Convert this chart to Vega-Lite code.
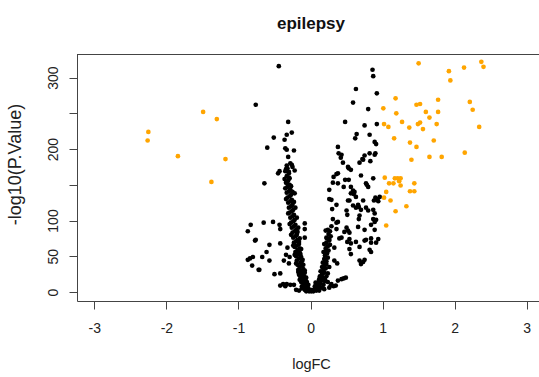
{
  "$schema": "https://vega.github.io/schema/vega-lite/v6.json",
  "width": 462,
  "height": 247,
  "autosize": {"type": "none"},
  "padding": {"left": 77, "top": 54, "right": 0, "bottom": 76},
  "title": {"text": "epilepsy", "font": "Liberation Sans", "fontSize": 17, "fontWeight": "bold", "color": "#111", "frame": "group", "anchor": "middle", "baseline": "alphabetic", "offset": 8, "dx": 3},
  "config": {"view": {"stroke": null}, "font": "Liberation Sans"},
  "data": {"values": [
    {"fc":-0.02,"p":1,"s":"n"},{"fc":0.01,"p":1,"s":"n"},{"fc":-0.05,"p":2,"s":"n"},{"fc":0.03,"p":2,"s":"n"},{"fc":-0.08,"p":3,"s":"n"},{"fc":0.05,"p":3,"s":"n"},{"fc":0.08,"p":2,"s":"n"},{"fc":-0.06,"p":5,"s":"n"},{"fc":-0.1,"p":6,"s":"n"},{"fc":-0.03,"p":4,"s":"n"},{"fc":0.1,"p":5,"s":"n"},{"fc":-0.12,"p":8,"s":"n"},{"fc":-0.08,"p":9,"s":"n"},{"fc":-0.04,"p":7,"s":"n"},{"fc":0.0,"p":3,"s":"n"},{"fc":-0.1,"p":12,"s":"n"},{"fc":-0.06,"p":11,"s":"n"},{"fc":-0.13,"p":14,"s":"n"},{"fc":-0.09,"p":16,"s":"n"},{"fc":-0.11,"p":19,"s":"n"},{"fc":-0.07,"p":17,"s":"n"},{"fc":-0.14,"p":21,"s":"n"},{"fc":-0.1,"p":23,"s":"n"},{"fc":-0.12,"p":26,"s":"n"},{"fc":-0.16,"p":24,"s":"n"},{"fc":-0.08,"p":27,"s":"n"},{"fc":-0.13,"p":30,"s":"n"},{"fc":-0.17,"p":31,"s":"n"},{"fc":-0.1,"p":32,"s":"n"},{"fc":-0.15,"p":35,"s":"n"},{"fc":-0.12,"p":37,"s":"n"},{"fc":-0.18,"p":38,"s":"n"},{"fc":-0.14,"p":41,"s":"n"},{"fc":-0.12,"p":43,"s":"n"},{"fc":-0.19,"p":44,"s":"n"},{"fc":-0.16,"p":47,"s":"n"},{"fc":-0.13,"p":49,"s":"n"},{"fc":-0.2,"p":50,"s":"n"},{"fc":-0.17,"p":53,"s":"n"},{"fc":-0.15,"p":55,"s":"n"},{"fc":-0.21,"p":56,"s":"n"},{"fc":-0.18,"p":59,"s":"n"},{"fc":-0.15,"p":61,"s":"n"},{"fc":-0.22,"p":63,"s":"n"},{"fc":-0.19,"p":65,"s":"n"},{"fc":-0.16,"p":67,"s":"n"},{"fc":-0.23,"p":69,"s":"n"},{"fc":-0.2,"p":71,"s":"n"},{"fc":-0.18,"p":73,"s":"n"},{"fc":-0.24,"p":76,"s":"n"},{"fc":-0.21,"p":78,"s":"n"},{"fc":-0.19,"p":80,"s":"n"},{"fc":-0.25,"p":83,"s":"n"},{"fc":-0.22,"p":85,"s":"n"},{"fc":-0.2,"p":87,"s":"n"},{"fc":-0.26,"p":90,"s":"n"},{"fc":-0.23,"p":92,"s":"n"},{"fc":-0.21,"p":94,"s":"n"},{"fc":-0.27,"p":97,"s":"n"},{"fc":-0.24,"p":99,"s":"n"},{"fc":-0.22,"p":101,"s":"n"},{"fc":-0.28,"p":104,"s":"n"},{"fc":-0.25,"p":106,"s":"n"},{"fc":-0.23,"p":108,"s":"n"},{"fc":-0.29,"p":111,"s":"n"},{"fc":-0.26,"p":113,"s":"n"},{"fc":-0.24,"p":115,"s":"n"},{"fc":-0.3,"p":118,"s":"n"},{"fc":-0.27,"p":120,"s":"n"},{"fc":-0.25,"p":122,"s":"n"},{"fc":-0.31,"p":125,"s":"n"},{"fc":-0.28,"p":127,"s":"n"},{"fc":-0.26,"p":129,"s":"n"},{"fc":-0.32,"p":132,"s":"n"},{"fc":-0.29,"p":134,"s":"n"},{"fc":-0.27,"p":136,"s":"n"},{"fc":-0.33,"p":139,"s":"n"},{"fc":-0.3,"p":141,"s":"n"},{"fc":-0.28,"p":143,"s":"n"},{"fc":-0.32,"p":147,"s":"n"},{"fc":-0.29,"p":150,"s":"n"},{"fc":-0.34,"p":153,"s":"n"},{"fc":-0.31,"p":156,"s":"n"},{"fc":-0.29,"p":159,"s":"n"},{"fc":-0.33,"p":162,"s":"n"},{"fc":-0.3,"p":166,"s":"n"},{"fc":-0.35,"p":169,"s":"n"},{"fc":-0.32,"p":173,"s":"n"},{"fc":-0.33,"p":177,"s":"n"},{"fc":-0.36,"p":158,"s":"n"},{"fc":-0.35,"p":145,"s":"n"},{"fc":-0.34,"p":130,"s":"n"},{"fc":-0.31,"p":110,"s":"n"},{"fc":-0.29,"p":95,"s":"n"},{"fc":-0.27,"p":80,"s":"n"},{"fc":-0.24,"p":65,"s":"n"},{"fc":-0.22,"p":52,"s":"n"},{"fc":-0.2,"p":40,"s":"n"},{"fc":-0.17,"p":28,"s":"n"},{"fc":-0.15,"p":17,"s":"n"},{"fc":-0.12,"p":5,"s":"n"},{"fc":-0.06,"p":1,"s":"n"},{"fc":0.04,"p":1,"s":"n"},
    {"fc":-0.19,"p":104,"s":"n"},{"fc":-0.17,"p":90,"s":"n"},{"fc":-0.15,"p":75,"s":"n"},{"fc":-0.13,"p":60,"s":"n"},{"fc":-0.11,"p":45,"s":"n"},{"fc":-0.08,"p":30,"s":"n"},{"fc":-0.06,"p":20,"s":"n"},{"fc":-0.03,"p":10,"s":"n"},
    {"fc":-0.21,"p":118,"s":"n"},{"fc":-0.23,"p":126,"s":"n"},{"fc":-0.25,"p":140,"s":"n"},{"fc":-0.18,"p":84,"s":"n"},{"fc":-0.16,"p":70,"s":"n"},{"fc":-0.14,"p":53,"s":"n"},{"fc":-0.1,"p":38,"s":"n"},{"fc":-0.09,"p":22,"s":"n"},{"fc":-0.05,"p":14,"s":"n"},{"fc":-0.27,"p":148,"s":"n"},{"fc":-0.3,"p":160,"s":"n"},
    {"fc":0.04,"p":3,"s":"n"},{"fc":0.07,"p":4,"s":"n"},{"fc":0.1,"p":6,"s":"n"},{"fc":0.06,"p":8,"s":"n"},{"fc":0.12,"p":9,"s":"n"},{"fc":0.09,"p":11,"s":"n"},{"fc":0.14,"p":12,"s":"n"},{"fc":0.11,"p":14,"s":"n"},{"fc":0.07,"p":13,"s":"n"},{"fc":0.15,"p":16,"s":"n"},{"fc":0.12,"p":18,"s":"n"},{"fc":0.17,"p":20,"s":"n"},{"fc":0.13,"p":22,"s":"n"},{"fc":0.16,"p":25,"s":"n"},{"fc":0.19,"p":27,"s":"n"},{"fc":0.14,"p":29,"s":"n"},{"fc":0.18,"p":31,"s":"n"},{"fc":0.21,"p":33,"s":"n"},{"fc":0.16,"p":35,"s":"n"},{"fc":0.2,"p":38,"s":"n"},{"fc":0.17,"p":41,"s":"n"},{"fc":0.22,"p":43,"s":"n"},{"fc":0.19,"p":46,"s":"n"},{"fc":0.24,"p":48,"s":"n"},{"fc":0.2,"p":51,"s":"n"},{"fc":0.23,"p":54,"s":"n"},{"fc":0.18,"p":56,"s":"n"},{"fc":0.25,"p":58,"s":"n"},{"fc":0.21,"p":61,"s":"n"},{"fc":0.24,"p":64,"s":"n"},{"fc":0.27,"p":66,"s":"n"},{"fc":0.22,"p":69,"s":"n"},{"fc":0.26,"p":72,"s":"n"},{"fc":0.23,"p":75,"s":"n"},{"fc":0.28,"p":78,"s":"n"},{"fc":0.25,"p":81,"s":"n"},{"fc":0.27,"p":85,"s":"n"},{"fc":0.29,"p":92,"s":"n"},{"fc":0.15,"p":6,"s":"n"},{"fc":0.18,"p":10,"s":"n"},{"fc":0.2,"p":15,"s":"n"},{"fc":0.22,"p":22,"s":"n"},
    {"fc":-0.42,"p":9,"s":"n"},{"fc":-0.35,"p":8,"s":"n"},{"fc":-0.28,"p":10,"s":"n"},{"fc":0.32,"p":8,"s":"n"},{"fc":0.35,"p":9,"s":"n"},{"fc":0.26,"p":6,"s":"n"},{"fc":-0.2,"p":3,"s":"n"},{"fc":-0.16,"p":2,"s":"n"},{"fc":0.12,"p":2,"s":"n"},{"fc":0.19,"p":4,"s":"n"},
    {"fc":-0.76,"p":262,"s":"n"},{"fc":-0.83,"p":94,"s":"n"},{"fc":-0.87,"p":85,"s":"n"},{"fc":-0.77,"p":72,"s":"n"},{"fc":-0.87,"p":45,"s":"n"},{"fc":-0.84,"p":47,"s":"n"},{"fc":-0.8,"p":49,"s":"n"},{"fc":-0.81,"p":37,"s":"n"},{"fc":-0.72,"p":31,"s":"n"},
    {"fc":-0.44,"p":316,"s":"n"},{"fc":-0.31,"p":238,"s":"n"},{"fc":-0.26,"p":223,"s":"n"},{"fc":-0.33,"p":220,"s":"n"},{"fc":-0.51,"p":216,"s":"n"},{"fc":-0.36,"p":213,"s":"n"},{"fc":-0.6,"p":202,"s":"n"},{"fc":-0.35,"p":201,"s":"n"},{"fc":-0.33,"p":199,"s":"n"},{"fc":-0.23,"p":198,"s":"n"},{"fc":-0.31,"p":189,"s":"n"},{"fc":-0.28,"p":180,"s":"n"},{"fc":-0.26,"p":178,"s":"n"},{"fc":-0.25,"p":175,"s":"n"},{"fc":-0.43,"p":169,"s":"n"},{"fc":-0.45,"p":166,"s":"n"},{"fc":-0.64,"p":152,"s":"n"},{"fc":-0.34,"p":172,"s":"n"},{"fc":-0.22,"p":170,"s":"n"},{"fc":-0.3,"p":168,"s":"n"},{"fc":-0.33,"p":153,"s":"n"},{"fc":-0.3,"p":150,"s":"n"},{"fc":-0.22,"p":138,"s":"n"},
    {"fc":-0.65,"p":97,"s":"n"},{"fc":-0.52,"p":98,"s":"n"},{"fc":-0.43,"p":94,"s":"n"},{"fc":-0.42,"p":88,"s":"n"},{"fc":-0.08,"p":96,"s":"n"},{"fc":-0.08,"p":88,"s":"n"},{"fc":-0.08,"p":76,"s":"n"},{"fc":-0.76,"p":73,"s":"n"},{"fc":-0.57,"p":66,"s":"n"},{"fc":-0.42,"p":68,"s":"n"},{"fc":-0.61,"p":56,"s":"n"},{"fc":-0.67,"p":49,"s":"n"},{"fc":-0.57,"p":44,"s":"n"},{"fc":-0.32,"p":62,"s":"n"},{"fc":-0.34,"p":52,"s":"n"},{"fc":-0.37,"p":44,"s":"n"},{"fc":-0.29,"p":49,"s":"n"},{"fc":-0.3,"p":40,"s":"n"},{"fc":-0.71,"p":31,"s":"n"},{"fc":-0.5,"p":25,"s":"n"},{"fc":-0.42,"p":26,"s":"n"},{"fc":-0.38,"p":11,"s":"n"},{"fc":-0.33,"p":11,"s":"n"},{"fc":-0.23,"p":10,"s":"n"},
    {"fc":0.21,"p":86,"s":"n"},{"fc":0.26,"p":130,"s":"n"},
    {"fc":0.86,"p":311,"s":"n"},{"fc":0.87,"p":302,"s":"n"},{"fc":0.63,"p":284,"s":"n"},{"fc":0.92,"p":278,"s":"n"},{"fc":0.59,"p":265,"s":"n"},{"fc":0.8,"p":256,"s":"n"},{"fc":0.48,"p":238,"s":"n"},{"fc":0.75,"p":233,"s":"n"},{"fc":0.92,"p":235,"s":"n"},{"fc":0.64,"p":221,"s":"n"},{"fc":0.62,"p":215,"s":"n"},{"fc":0.82,"p":220,"s":"n"},{"fc":0.89,"p":210,"s":"n"},{"fc":0.91,"p":207,"s":"n"},{"fc":0.38,"p":203,"s":"n"},{"fc":0.39,"p":194,"s":"n"},{"fc":0.42,"p":188,"s":"n"},{"fc":0.75,"p":191,"s":"n"},{"fc":0.82,"p":194,"s":"n"},{"fc":0.9,"p":194,"s":"n"},{"fc":0.72,"p":186,"s":"n"},{"fc":0.83,"p":183,"s":"n"},{"fc":0.68,"p":181,"s":"n"},{"fc":0.45,"p":181,"s":"n"},{"fc":0.53,"p":173,"s":"n"},{"fc":0.56,"p":171,"s":"n"},{"fc":0.36,"p":165,"s":"n"},{"fc":0.32,"p":161,"s":"n"},{"fc":0.31,"p":153,"s":"n"},{"fc":0.38,"p":152,"s":"n"},{"fc":0.48,"p":157,"s":"n"},{"fc":0.53,"p":157,"s":"n"},{"fc":0.7,"p":163,"s":"n"},{"fc":0.87,"p":159,"s":"n"},{"fc":0.78,"p":150,"s":"n"},{"fc":0.26,"p":143,"s":"n"},{"fc":0.46,"p":147,"s":"n"},{"fc":0.56,"p":147,"s":"n"},{"fc":0.59,"p":142,"s":"n"},{"fc":0.61,"p":140,"s":"n"},{"fc":0.6,"p":137,"s":"n"},{"fc":0.9,"p":132,"s":"n"},{"fc":0.93,"p":130,"s":"n"},{"fc":0.96,"p":133,"s":"n"},{"fc":0.94,"p":127,"s":"n"},{"fc":0.88,"p":128,"s":"n"},{"fc":0.52,"p":128,"s":"n"},{"fc":0.59,"p":121,"s":"n"},{"fc":0.63,"p":118,"s":"n"},{"fc":0.67,"p":119,"s":"n"},{"fc":0.3,"p":116,"s":"n"},{"fc":0.5,"p":114,"s":"n"},{"fc":0.51,"p":108,"s":"n"},{"fc":0.77,"p":118,"s":"n"},{"fc":0.8,"p":114,"s":"n"},{"fc":0.87,"p":115,"s":"n"},{"fc":0.89,"p":110,"s":"n"},{"fc":0.68,"p":107,"s":"n"},{"fc":0.67,"p":102,"s":"n"},{"fc":0.87,"p":102,"s":"n"},{"fc":0.89,"p":98,"s":"n"},{"fc":0.31,"p":102,"s":"n"},{"fc":0.36,"p":97,"s":"n"},{"fc":0.24,"p":87,"s":"n"},{"fc":0.36,"p":88,"s":"n"},{"fc":0.22,"p":76,"s":"n"},{"fc":0.26,"p":74,"s":"n"},{"fc":0.5,"p":90,"s":"n"},{"fc":0.52,"p":86,"s":"n"},{"fc":0.54,"p":83,"s":"n"},{"fc":0.43,"p":76,"s":"n"},{"fc":0.54,"p":74,"s":"n"},{"fc":0.51,"p":70,"s":"n"},{"fc":0.75,"p":72,"s":"n"},{"fc":0.84,"p":69,"s":"n"},{"fc":0.91,"p":69,"s":"n"},{"fc":0.94,"p":74,"s":"n"},{"fc":0.82,"p":59,"s":"n"},{"fc":0.84,"p":56,"s":"n"},{"fc":0.54,"p":60,"s":"n"},{"fc":0.56,"p":53,"s":"n"},{"fc":0.68,"p":44,"s":"n"},{"fc":0.7,"p":39,"s":"n"},{"fc":0.73,"p":42,"s":"n"},{"fc":0.33,"p":44,"s":"n"},{"fc":0.37,"p":40,"s":"n"},{"fc":0.22,"p":39,"s":"n"},{"fc":0.26,"p":35,"s":"n"},{"fc":0.24,"p":26,"s":"n"},{"fc":0.2,"p":18,"s":"n"},{"fc":0.24,"p":14,"s":"n"},{"fc":0.28,"p":9,"s":"n"},{"fc":0.46,"p":19,"s":"n"},{"fc":0.49,"p":20,"s":"n"},{"fc":0.43,"p":18,"s":"n"},{"fc":0.38,"p":16,"s":"n"},{"fc":0.29,"p":11,"s":"n"},
    {"fc":0.38,"p":166,"s":"n"},{"fc":0.29,"p":129,"s":"n"},{"fc":0.36,"p":122,"s":"n"},{"fc":0.38,"p":98,"s":"n"},{"fc":0.4,"p":75,"s":"n"},{"fc":0.47,"p":84,"s":"n"},{"fc":0.63,"p":70,"s":"n"},{"fc":0.56,"p":68,"s":"n"},{"fc":0.68,"p":63,"s":"n"},{"fc":0.75,"p":45,"s":"n"},{"fc":0.77,"p":73,"s":"n"},{"fc":0.84,"p":75,"s":"n"},{"fc":0.89,"p":87,"s":"n"},{"fc":0.84,"p":94,"s":"n"},{"fc":0.75,"p":87,"s":"n"},{"fc":0.66,"p":91,"s":"n"},{"fc":0.56,"p":138,"s":"n"},{"fc":0.63,"p":133,"s":"n"},{"fc":0.54,"p":128,"s":"n"},{"fc":0.7,"p":115,"s":"n"},{"fc":0.66,"p":122,"s":"n"},{"fc":0.73,"p":128,"s":"n"},{"fc":0.91,"p":101,"s":"n"},{"fc":0.89,"p":192,"s":"n"},{"fc":0.73,"p":185,"s":"n"},{"fc":0.43,"p":192,"s":"n"},{"fc":0.52,"p":175,"s":"n"},{"fc":0.77,"p":152,"s":"n"},{"fc":0.8,"p":147,"s":"n"},{"fc":0.19,"p":67,"s":"n"},{"fc":0.33,"p":62,"s":"n"},{"fc":0.21,"p":57,"s":"n"},
    {"fc":-2.25,"p":224,"s":"y"},{"fc":-2.26,"p":212,"s":"y"},{"fc":-1.84,"p":190,"s":"y"},{"fc":-1.49,"p":252,"s":"y"},{"fc":-1.3,"p":242,"s":"y"},{"fc":-1.18,"p":186,"s":"y"},{"fc":-1.375,"p":154,"s":"y"},
    {"fc":1.5,"p":320,"s":"y"},{"fc":2.37,"p":322,"s":"y"},{"fc":2.4,"p":315,"s":"y"},{"fc":1.92,"p":309,"s":"y"},{"fc":2.13,"p":314,"s":"y"},{"fc":1.94,"p":296,"s":"y"},{"fc":1.18,"p":271,"s":"y"},{"fc":1.01,"p":257,"s":"y"},{"fc":1.77,"p":269,"s":"y"},{"fc":2.21,"p":266,"s":"y"},{"fc":2.25,"p":255,"s":"y"},{"fc":1.47,"p":262,"s":"y"},{"fc":1.52,"p":263,"s":"y"},{"fc":1.19,"p":250,"s":"y"},{"fc":1.6,"p":252,"s":"y"},{"fc":1.77,"p":252,"s":"y"},{"fc":1.65,"p":244,"s":"y"},{"fc":1.02,"p":235,"s":"y"},{"fc":1.08,"p":231,"s":"y"},{"fc":1.27,"p":238,"s":"y"},{"fc":1.37,"p":230,"s":"y"},{"fc":1.49,"p":235,"s":"y"},{"fc":1.52,"p":237,"s":"y"},{"fc":1.56,"p":228,"s":"y"},{"fc":1.75,"p":235,"s":"y"},{"fc":2.34,"p":231,"s":"y"},{"fc":1.16,"p":215,"s":"y"},{"fc":1.38,"p":209,"s":"y"},{"fc":1.47,"p":203,"s":"y"},{"fc":1.71,"p":212,"s":"y"},{"fc":1.4,"p":185,"s":"y"},{"fc":1.65,"p":189,"s":"y"},{"fc":1.82,"p":189,"s":"y"},{"fc":2.14,"p":195,"s":"y"},{"fc":1.03,"p":160,"s":"y"},{"fc":1.09,"p":152,"s":"y"},{"fc":1.15,"p":152,"s":"y"},{"fc":1.17,"p":159,"s":"y"},{"fc":1.21,"p":159,"s":"y"},{"fc":1.25,"p":159,"s":"y"},{"fc":1.23,"p":155,"s":"y"},{"fc":1.25,"p":149,"s":"y"},{"fc":1.44,"p":152,"s":"y"},{"fc":1.38,"p":141,"s":"y"},{"fc":1.44,"p":141,"s":"y"},{"fc":1.05,"p":140,"s":"y"},{"fc":1.02,"p":132,"s":"y"},{"fc":1.11,"p":128,"s":"y"},{"fc":1.33,"p":120,"s":"y"},{"fc":1.18,"p":113,"s":"y"},{"fc":1.05,"p":93,"s":"y"}
  ]},
  "layer": [
    {
      "mark": {"type": "circle", "size": 22, "opacity": 1},
      "encoding": {
        "x": {"field": "fc", "type": "quantitative", "scale": {"domain": [-3.24, 3.17], "nice": false, "zero": false},
          "axis": {"values": [-3, -2, -1, 0, 1, 2, 3], "labelExpr": "datum.value < 0 ? '-' + abs(datum.value) : '' + datum.value", "title": "logFC", "grid": false, "domainColor": "#444", "tickColor": "#444", "tickSize": 8, "labelPadding": 12, "labelFontSize": 14, "labelColor": "#222", "labelFont": "Liberation Sans", "titleFont": "Liberation Sans", "titleFontWeight": "normal", "titleFontSize": 14.5, "titleColor": "#222", "titleX": 234, "titleY": 67, "titleBaseline": "alphabetic", "titleAnchor": null, "titleAlign": "center"}},
        "y": {"field": "p", "type": "quantitative", "scale": {"domain": [-12.6, 333], "nice": false, "zero": false},
          "axis": {"values": [0, 50, 100, 150, 200, 250, 300], "labelExpr": "datum.value == 150 || datum.value == 250 ? '' : datum.label", "title": "-log10(P.Value)", "grid": false, "domainColor": "#444", "tickColor": "#444", "tickSize": 8, "labelPadding": 12, "labelAngle": -90, "labelAlign": "center", "labelBaseline": "alphabetic", "labelFontSize": 14, "labelColor": "#222", "labelFont": "Liberation Sans", "titleFont": "Liberation Sans", "titleFontWeight": "normal", "titleFontSize": 18, "titleColor": "#222", "titleX": -57, "titleY": 110, "titleBaseline": "alphabetic", "titleAlign": "center", "titleAngle": -90}},
        "color": {"field": "s", "type": "nominal", "scale": {"domain": ["n", "y"], "range": ["#000000", "#FFA500"]}, "legend": null}
      }
    },
    {
      "mark": {"type": "rule", "color": "#444", "strokeWidth": 1, "yOffset": 0.5},
      "encoding": {"y": {"datum": 333}}
    }
  ]
}
